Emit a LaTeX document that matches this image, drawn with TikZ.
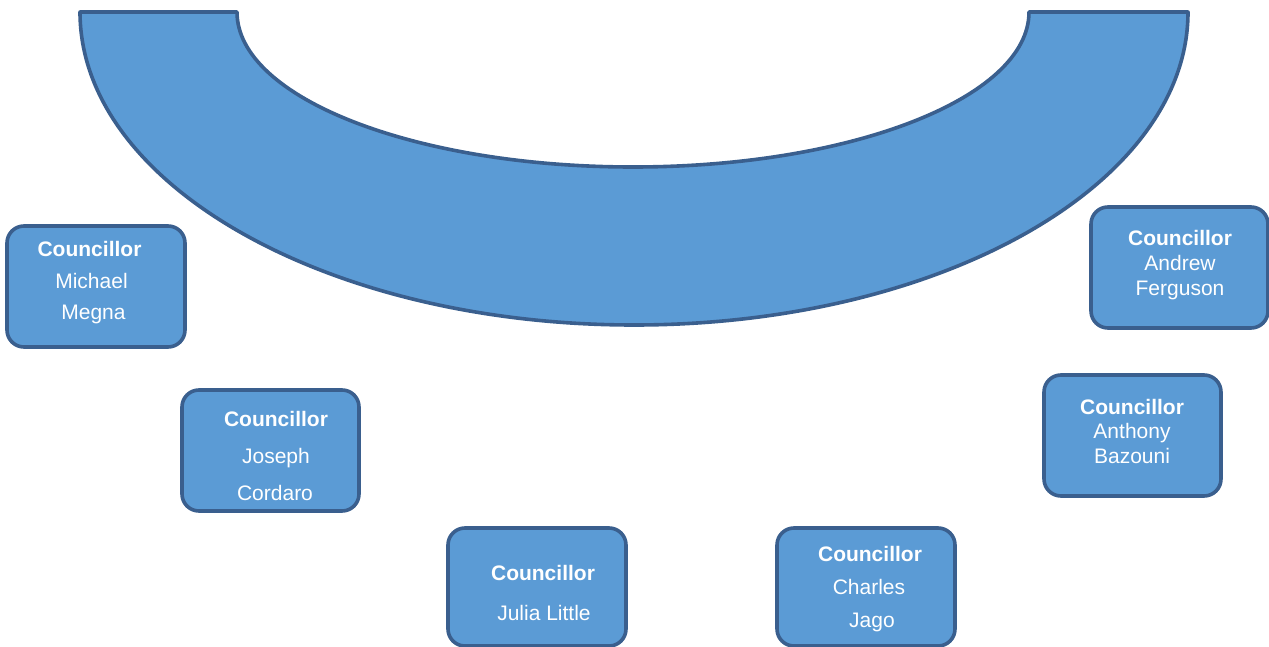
\documentclass[tikz,border=0pt]{standalone}
\usepackage{fontspec}
\setmainfont{Liberation Sans}
\definecolor{fillblue}{HTML}{5B9BD5}
\definecolor{edgeblue}{HTML}{3A5F8E}
\begin{document}
\begin{tikzpicture}[x=1pt,y=-1pt,
  box/.style={draw=edgeblue,fill=fillblue,line width=3.6pt,rounded corners=17pt,inner sep=0pt},
  txt/.style={text=white,anchor=base,inner sep=0pt,font=\fontsize{21}{25}\selectfont},
  ttl/.style={txt,font=\fontsize{21}{25}\selectfont\bfseries}]
\useasboundingbox (0,0) rectangle (1269,647);
% curved dais
\draw[draw=edgeblue,fill=fillblue,line width=3.6pt,line join=round]
  (80,12) -- (237,12)
  arc[start angle=180,end angle=0,x radius=396,y radius=155]
  -- (1188,12)
  arc[start angle=0,end angle=180,x radius=554,y radius=313]
  -- cycle;
% boxes
\node[box,minimum width=178pt,minimum height=121pt] (b1) at (96,286.5) {};
\node[box,minimum width=177pt,minimum height=121pt] (b2) at (270.5,450.5) {};
\node[box,minimum width=178pt,minimum height=118pt] (b3) at (537,587) {};
\node[box,minimum width=178pt,minimum height=118pt] (b4) at (866,587) {};
\node[box,minimum width=177pt,minimum height=121pt] (b5) at (1132.5,435.5) {};
\node[box,minimum width=177pt,minimum height=121pt] (b6) at (1179.5,267.5) {};
% texts
\node[ttl] (t1a) at (89.5,256) {Councillor};
\node[txt] (t1b) at (91.5,288) {Michael};
\node[txt] (t1c) at (93.5,319) {Megna};
\node[ttl] (t2a) at (276,426) {Councillor};
\node[txt] (t2b) at (276,463) {Joseph};
\node[txt] (t2c) at (275,500) {Cordaro};
\node[ttl] (t3a) at (543,580) {Councillor};
\node[txt] (t3b) at (544,620) {Julia Little};
\node[ttl] (t4a) at (870,561) {Councillor};
\node[txt] (t4b) at (869,594) {Charles};
\node[txt] (t4c) at (872,627) {Jago};
\node[ttl] (t5a) at (1132,414) {Councillor};
\node[txt] (t5b) at (1132,438) {Anthony};
\node[txt] (t5c) at (1132,463) {Bazouni};
\node[ttl] (t6a) at (1180,246) {Councillor};
\node[txt] (t6b) at (1180,270) {Andrew};
\node[txt] (t6c) at (1180,295) {Ferguson};
\end{tikzpicture}
\end{document}
